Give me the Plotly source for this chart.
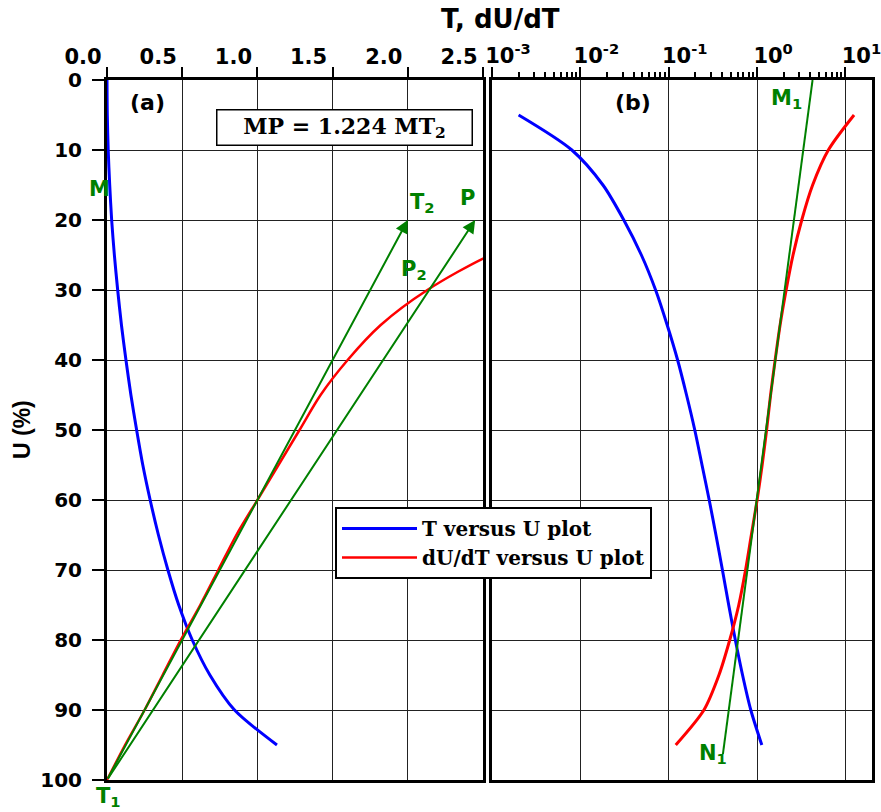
import plotly.graph_objects as go

# Degree of consolidation U (%) and time factor T
U_T = [0, 5, 10, 15, 20, 25, 30, 35, 40, 45, 50, 55, 60, 65, 70, 75, 80, 85, 90, 95]
T_vals = [0.0, 0.002, 0.008, 0.018, 0.031, 0.049, 0.071, 0.096, 0.126, 0.159,
          0.197, 0.238, 0.287, 0.342, 0.405, 0.477, 0.567, 0.684, 0.848, 1.13]

# Rate of consolidation dU/dT against U (%)
U_rate = [5, 10, 15, 20, 25, 30, 35, 40, 45, 50, 55, 60, 65, 70, 75, 80, 85, 90, 95, 100]
dUdT_vals = [12.5, 6.4, 4.25, 3.2, 2.55, 2.13, 1.82, 1.6, 1.42, 1.28,
             1.14, 1.0, 0.86, 0.74, 0.62, 0.49, 0.37, 0.25, 0.12, 0.0]

# Construction points, panel (a): tangent T1-T2 and line T1-P (MP = 1.224 MT2)
T1 = (0.0, 100)
T2 = (2.0, 20)
P = (2.448, 20)
# Construction line, panel (b)
N1 = (0.41, 96.3)
M1 = (4.24, 0)

# Axis ticks
lin_ticks = [0.0, 0.5, 1.0, 1.5, 2.0, 2.5]
log_ticks = [0.001, 0.01, 0.1, 1, 10]
log_labels = ["10<sup>-3</sup>", "10<sup>-2</sup>", "10<sup>-1</sup>", "10<sup>0</sup>", "10<sup>1</sup>"]
u_ticks = [0, 10, 20, 30, 40, 50, 60, 70, 80, 90, 100]

W, H = 881, 812
BLUE, RED, GREEN = "#0000ff", "#ff0000", "#008000"
SANS = "DejaVu Sans, Arial, sans-serif"
NARROW_SANS = "Liberation Sans, Arial, sans-serif"
SERIF = "DejaVu Serif, Times New Roman, serif"


def px(x):
    return x / W


def py(y):
    return 1 - y / H


# the log panel only takes positive values
T_log = [(u, t) for u, t in zip(U_T, T_vals) if t > 0]
R_log = [(u, r) for u, r in zip(U_rate, dUdT_vals) if r > 0]

fig = go.Figure()

# Panel (a)
fig.add_trace(go.Scatter(x=T_vals, y=U_T, mode="lines", name="T versus U plot",
                         line=dict(color=BLUE, width=3, shape="spline", smoothing=0.8),
                         xaxis="x", yaxis="y"))
fig.add_trace(go.Scatter(x=dUdT_vals, y=U_rate, mode="lines", name="dU/dT versus U plot",
                         line=dict(color=RED, width=2.5, shape="spline", smoothing=0.8),
                         xaxis="x", yaxis="y"))

# Panel (b)
fig.add_trace(go.Scatter(x=[t for _, t in T_log], y=[u for u, _ in T_log], mode="lines",
                         showlegend=False,
                         line=dict(color=BLUE, width=3, shape="spline", smoothing=0.8),
                         xaxis="x2", yaxis="y2"))
fig.add_trace(go.Scatter(x=[r for _, r in R_log], y=[u for u, _ in R_log], mode="lines",
                         showlegend=False,
                         line=dict(color=RED, width=3, shape="spline", smoothing=0.8),
                         xaxis="x2", yaxis="y2"))
fig.add_trace(go.Scatter(x=[N1[0], M1[0]], y=[N1[1], M1[1]], mode="lines", showlegend=False,
                         line=dict(color=GREEN, width=2),
                         xaxis="x2", yaxis="y2"))

tickfont = dict(family=SANS, size=21, color="black", weight="bold")
grid = dict(showgrid=True, gridcolor="#222222", gridwidth=1, zeroline=False, automargin=False)

fig.update_layout(
    width=W, height=H, autosize=False,
    margin=dict(l=0, r=0, t=0, b=0, pad=0, autoexpand=False),
    paper_bgcolor="white", plot_bgcolor="white",
    showlegend=True,
    legend=dict(x=px(335), y=py(507), xanchor="left", yanchor="top",
                bgcolor="white", bordercolor="black", borderwidth=2,
                font=dict(family=SERIF, size=20, color="black", weight="bold"),
                itemwidth=75, tracegroupgap=0),
    xaxis=dict(domain=[px(107), px(483)], range=[0, 2.5], side="top",
               tickvals=lin_ticks, ticktext=[f"{v:.1f}" for v in lin_ticks],
               ticks="outside", ticklen=10, tickwidth=2, tickcolor="black",
               ticklabelshift=-24, ticklabelstandoff=-5, tickfont=tickfont,
               showline=True, linecolor="black", linewidth=3, mirror=True,
               anchor="y", **grid),
    yaxis=dict(domain=[py(780), py(80)], range=[100, 0],
               tickvals=u_ticks, ticks="outside", ticklen=12, tickwidth=2, tickcolor="black",
               ticklabelstandoff=6, tickfont=dict(family=SANS, size=20, color="black", weight="bold"),
               showline=True, linecolor="black", linewidth=3, mirror=True,
               anchor="x", **grid),
    xaxis2=dict(domain=[px(492), px(872)], type="log", range=[-3, 1.3], side="top",
                tickvals=log_ticks, ticktext=log_labels,
                ticks="outside", ticklen=10, tickwidth=2, tickcolor="black",
                ticklabelshift=16, ticklabelstandoff=-4, tickfont=tickfont,
                ticklabeloverflow="allow",
                minor=dict(ticks="outside", ticklen=5, tickwidth=2, tickcolor="black",
                           dtick="D1", showgrid=False),
                showline=True, linecolor="black", linewidth=3, mirror=True,
                anchor="y2", **grid),
    yaxis2=dict(domain=[py(780), py(80)], range=[100, 0],
                tickvals=u_ticks, showticklabels=False, ticks="",
                showline=True, linecolor="black", linewidth=3, mirror=True,
                anchor="x2", **grid),
)

annotations = []

# Construction arrows in panel (a)
for head in (T2, P):
    annotations.append(dict(x=head[0], y=head[1], ax=T1[0], ay=T1[1],
                            xref="x", yref="y", axref="x", ayref="y",
                            text="", showarrow=True, arrowhead=2, arrowsize=1.3,
                            arrowwidth=2, arrowcolor=GREEN))

gfont = dict(family=SANS, size=21, color=GREEN, weight="bold")


def label(x, y, text, font, **kw):
    d = dict(x=px(x), y=py(y), xref="paper", yref="paper", text=text, showarrow=False,
             xanchor="center", yanchor="middle", font=font)
    d.update(kw)
    return d


# Point labels
annotations += [
    dict(x=T2[0], y=T2[1], xref="x", yref="y", text="T<sub>2</sub>", showarrow=False,
         xanchor="left", yanchor="bottom", xshift=0, yshift=2, font=gfont),
    dict(x=P[0], y=P[1], xref="x", yref="y", text="P", showarrow=False,
         xanchor="right", yanchor="bottom", xshift=2, yshift=8, font=gfont),
    label(414, 270, "P<sub>2</sub>", gfont),
    label(99, 189, "M", gfont),
    label(108, 797, "T<sub>1</sub>", gfont),
    label(786, 99, "M<sub>1</sub>", gfont),
    label(713, 754, "N<sub>1</sub>", gfont),
]

# Panel tags, ratio box and axis titles
bfont = dict(family=SANS, size=22, color="black", weight="bold")
annotations += [
    label(147, 102, "(a)", bfont),
    label(633, 102, "(b)", bfont),
    label(344, 127, "MP = 1.224 MT<sub>2</sub>",
          dict(family=SERIF, size=22, color="black", weight="bold"),
          bordercolor="black", borderwidth=1.5, borderpad=2, bgcolor="white", width=250),
    label(500, 19, "T, dU/dT", dict(family=SANS, size=26, color="black", weight="bold")),
    label(22, 430, "U (%)", dict(family=NARROW_SANS, size=23, color="black", weight="bold"),
          textangle=-90),
]

fig.update_layout(annotations=annotations)

fig.write_html("out.html")
